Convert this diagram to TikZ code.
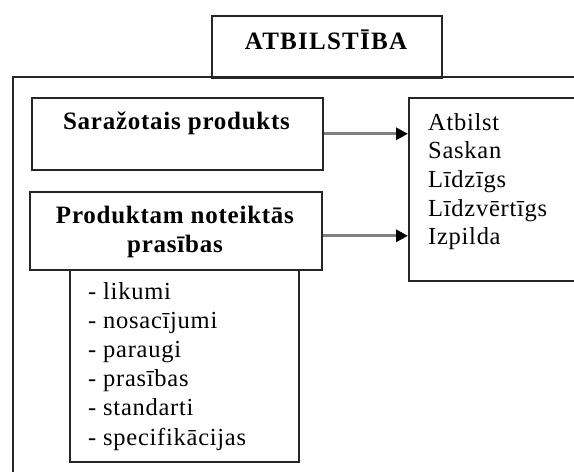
\documentclass[tikz,border=0pt]{standalone}
\usepackage{fontspec}
\setmainfont{Liberation Serif}[LetterSpace=3]
\usetikzlibrary{arrows.meta}

\begin{document}
\begin{tikzpicture}[x=1pt,y=-1pt,
  frame/.style={draw=black!85,line width=1.6pt},
  boxed/.style={frame,rectangle,inner sep=0pt,anchor=north west},
  heading/.style={font=\fontsize{25}{29}\selectfont\bfseries,anchor=base,inner sep=0pt},
  item/.style={font=\fontsize{24.5}{29}\selectfont,anchor=base west,inner sep=0pt},
  leadsto/.style={draw=black!50,line width=3pt,-{Triangle[length=12pt,width=12pt,color=black]}}]
\useasboundingbox (0,0) rectangle (574,472);
\clip (0,0) rectangle (574,472);
% outer frame runs off the page
\draw[frame] (13,77) rectangle (600,500);
\node[boxed,minimum width=230pt,minimum height=62pt] (title) at (211,15) {};
\node[boxed,minimum width=291pt,minimum height=72pt] (made) at (31,97) {};
\node[boxed,minimum width=292pt,minimum height=78pt] (req) at (29,191) {};
\node[boxed,minimum width=229pt,minimum height=192pt] (list) at (69,269) {};
\node[boxed,minimum width=200pt,minimum height=183pt] (result) at (408,97) {};
\node[heading] (titletxt) at (326,49) {\addfontfeatures{LetterSpace=5}ATBILSTĪBA};
\node[heading] (madetxt) at (176.5,129) {Saražotais produkts};
\node[heading] (reqtxt) at (175,223) {Produktam noteiktās};
\node[heading] (reqtxtb) at (175,252) {prasības};
\foreach \w [count=\i from 0] in {Atbilst,Saskan,Līdzīgs,Līdzvērtīgs,Izpilda}
  \node[item] (word\i) at (428,{130+28.7*\i}) {\w};
\foreach \w [count=\i from 0] in {likumi,nosacījumi,paraugi,prasības,standarti,specifikācijas}
  \node[item] (kind\i) at (88,{299+29.2*\i}) {- \w};
% arrows
\path (req.east) ++(0,5) coordinate (reqout);
\draw[leadsto] (made.east) -- (result.west |- made.east);
\draw[leadsto] (reqout) -- (reqout -| result.west);
\end{tikzpicture}
\end{document}
